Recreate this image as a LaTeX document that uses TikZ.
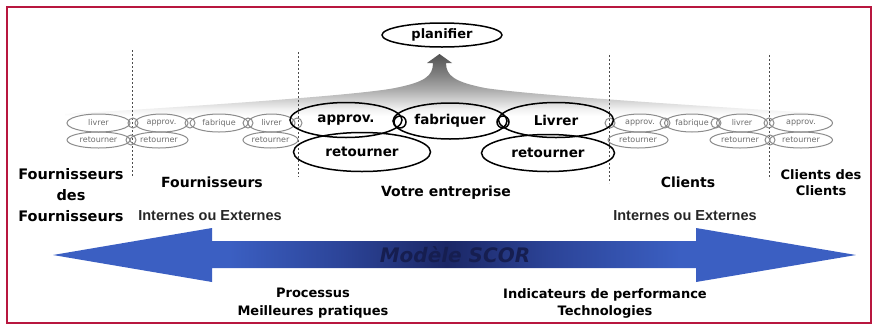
\documentclass[tikz,border=0pt]{standalone}
\usepackage{fontspec}
\setmainfont{DejaVu Sans}
\newfontfamily\libsans{Liberation Sans}
\usetikzlibrary{shapes.geometric}
\definecolor{framered}{HTML}{B8173F}
\definecolor{arrowblue}{HTML}{3B5FC2}
\definecolor{arrowmid}{HTML}{2C4498}
\definecolor{arrowdark}{HTML}{1B2766}
\definecolor{scortext}{HTML}{161E50}
\definecolor{smallgray}{HTML}{8C8C8C}
\definecolor{smalltext}{HTML}{6E6E6E}
\pgfdeclarehorizontalshading{scorshade}{100bp}{color(0bp)=(arrowblue); color(25bp)=(arrowblue); color(36bp)=(arrowblue); color(43bp)=(arrowmid); color(49.5bp)=(arrowdark); color(56bp)=(arrowmid); color(64bp)=(arrowblue); color(75bp)=(arrowblue); color(100bp)=(arrowblue)}
\pgfdeclareverticalshading{fanshade}{100bp}{color(0bp)=(white); color(25bp)=(white); color(31bp)=(white!94!black); color(39bp)=(white!80!black); color(47bp)=(white!66!black); color(59bp)=(white!50!black); color(75bp)=(white!32!black); color(100bp)=(white!32!black)}
\begin{document}
\begin{tikzpicture}[x=1pt,y=-1pt,
  bigell/.style={ellipse, draw=black, line width=1.5pt, inner sep=0pt, font=\fontsize{13.5}{15}\bfseries\selectfont},
  smallell/.style={ellipse, draw=smallgray, line width=1pt, inner sep=0pt, minimum height=18pt, text=smalltext, font=\fontsize{8}{9}\selectfont},
  junc/.style={circle, draw=smallgray, line width=1pt, minimum size=10pt, inner sep=0pt},
  bigjunc/.style={circle, draw=black, line width=1.5pt, minimum size=12pt, inner sep=0pt},
  lab/.style={font=\fontsize{14}{16}\bfseries\selectfont, inner sep=0pt, align=center},
  sublab/.style={font=\libsans\fontsize{14.5}{16}\bfseries\selectfont, inner sep=0pt, text=black!85},
  divider/.style={draw=black!70, dash pattern=on 2pt off 2pt, line width=0.8pt}]
\useasboundingbox (0,0) rectangle (874,327);
\fill[white] (0,0) rectangle (874,327);
\draw[framered, line width=2.2pt] (7,7) rectangle (871,323);

% gray fan rising to planifier
\shade[shading=fanshade] (65,116) -- (65,114) .. controls (200,106) and (360,95) .. (395,88)
  .. controls (425,82) and (433,76) .. (433,63) -- (427,63) -- (439.5,54) -- (452,63) -- (446,63)
  .. controls (446,76) and (455,82) .. (485,88) .. controls (530,95) and (700,106) .. (830,114)
  -- (830,116) -- cycle;

% dashed dividers
\coordinate (d1a) at (132,50); \coordinate (d1b) at (132,177);
\coordinate (d2a) at (298,52); \coordinate (d2b) at (298,177);
\coordinate (d3a) at (609,55); \coordinate (d3b) at (609,183);
\coordinate (d4a) at (769,55); \coordinate (d4b) at (769,179);
\draw[divider] (d1a) -- (d1b);
\draw[divider] (d2a) -- (d2b);
\draw[divider] (d3a) -- (d3b);
\draw[divider] (d4a) -- (d4b);

% planifier
\node[bigell, font=\fontsize{13}{15}\bfseries\selectfont, minimum width=120pt, minimum height=24pt] (planifier) at (442,35) {planifier};

% small ellipses left
\node[smallell, minimum width=63pt] (l1) at (98.5,123) {livrer};
\node[smallell, minimum width=53pt] (a1) at (161.5,123) {approv.};
\node[smallell, minimum width=58pt] (f1) at (219,123) {fabrique};
\node[smallell, minimum width=47pt] (l2) at (271.5,123) {livrer};
\node[smallell, minimum width=63pt, minimum height=16pt] (r1) at (98.5,140) {retourner};
\node[smallell, minimum width=58pt, minimum height=16pt] (r2) at (159,140) {retourner};
\node[smallell, minimum width=55pt, minimum height=16pt] (r3) at (270.5,140) {retourner};
\node[junc] (j1) at (133,123) {};
\node[junc] (j2) at (190,123) {};
\node[junc] (j3) at (248,123) {};
\node[junc] (j4) at (297,123) {};
\node[junc] (j5) at (131,140) {};

% small ellipses right
\node[smallell, minimum width=56pt] (a2) at (640,123) {approv.};
\node[smallell, minimum width=55pt] (f2) at (692,123) {fabrique};
\node[smallell, minimum width=51pt] (l3) at (742,123) {livrer};
\node[smallell, minimum width=63pt] (a3) at (801,123) {approv.};
\node[smallell, minimum width=60pt, minimum height=16pt] (r4) at (638,140) {retourner};
\node[smallell, minimum width=60pt, minimum height=16pt] (r5) at (740,140) {retourner};
\node[smallell, minimum width=63pt, minimum height=16pt] (r6) at (801,140) {retourner};
\node[junc] (j6) at (610,123) {};
\node[junc] (j7) at (665,123) {};
\node[junc] (j8) at (716,123) {};
\node[junc] (j9) at (769,123) {};
\node[junc] (j10) at (770,140) {};

% big ellipses
\node[bigell, minimum width=112pt, minimum height=35pt] (approv) at (346,120) {approv.};
\node[bigell, minimum width=114pt, minimum height=36pt] (fabriquer) at (450,121) {fabriquer};
\node[bigell, minimum width=115pt, minimum height=35pt] (livrer) at (556,120) {Livrer};
\node[bigell, minimum width=137pt, minimum height=39pt] (retourL) at (362,152) {retourner};
\node[bigell, minimum width=133pt, minimum height=37pt] (retourR) at (548,153) {retourner};
\node[bigjunc] (bj1) at (400,122) {};
\node[bigjunc] (bj2) at (503,122) {};

% labels
\node[lab, font=\fontsize{14.5}{21}\bfseries\selectfont] (fdf) at (71,195) {Fournisseurs\\des\\Fournisseurs};
\node[lab] (fourn) at (212,182) {Fournisseurs};
\node[lab] (votre) at (446,193) {Votre entreprise};
\node[lab] (clients) at (688,182) {Clients};
\node[lab, font=\fontsize{13}{16}\bfseries\selectfont] (cdc) at (821,183) {Clients des\\Clients};
\node[sublab] (ie1) at (210,216) {Internes ou Externes};
\node[sublab] (ie2) at (685,216) {Internes ou Externes};

% SCOR arrow
\shade[shading=scorshade] (53,255) -- (212,228) -- (212,241) -- (696,241) -- (696,228) -- (856,255)
  -- (696,282) -- (696,268) -- (212,268) -- (212,282) -- cycle;
\node[inner sep=0pt, text=scortext, font=\fontsize{20}{22}\bfseries\itshape\selectfont] (scor) at (455,255) {Modèle SCOR};

\node[lab, font=\fontsize{13}{18}\bfseries\selectfont] (proc) at (313,303) {Processus\\Meilleures pratiques};
\node[lab, font=\fontsize{13}{17}\bfseries\selectfont] (indic) at (605,303.5) {Indicateurs de performance\\Technologies};
\end{tikzpicture}
\end{document}
